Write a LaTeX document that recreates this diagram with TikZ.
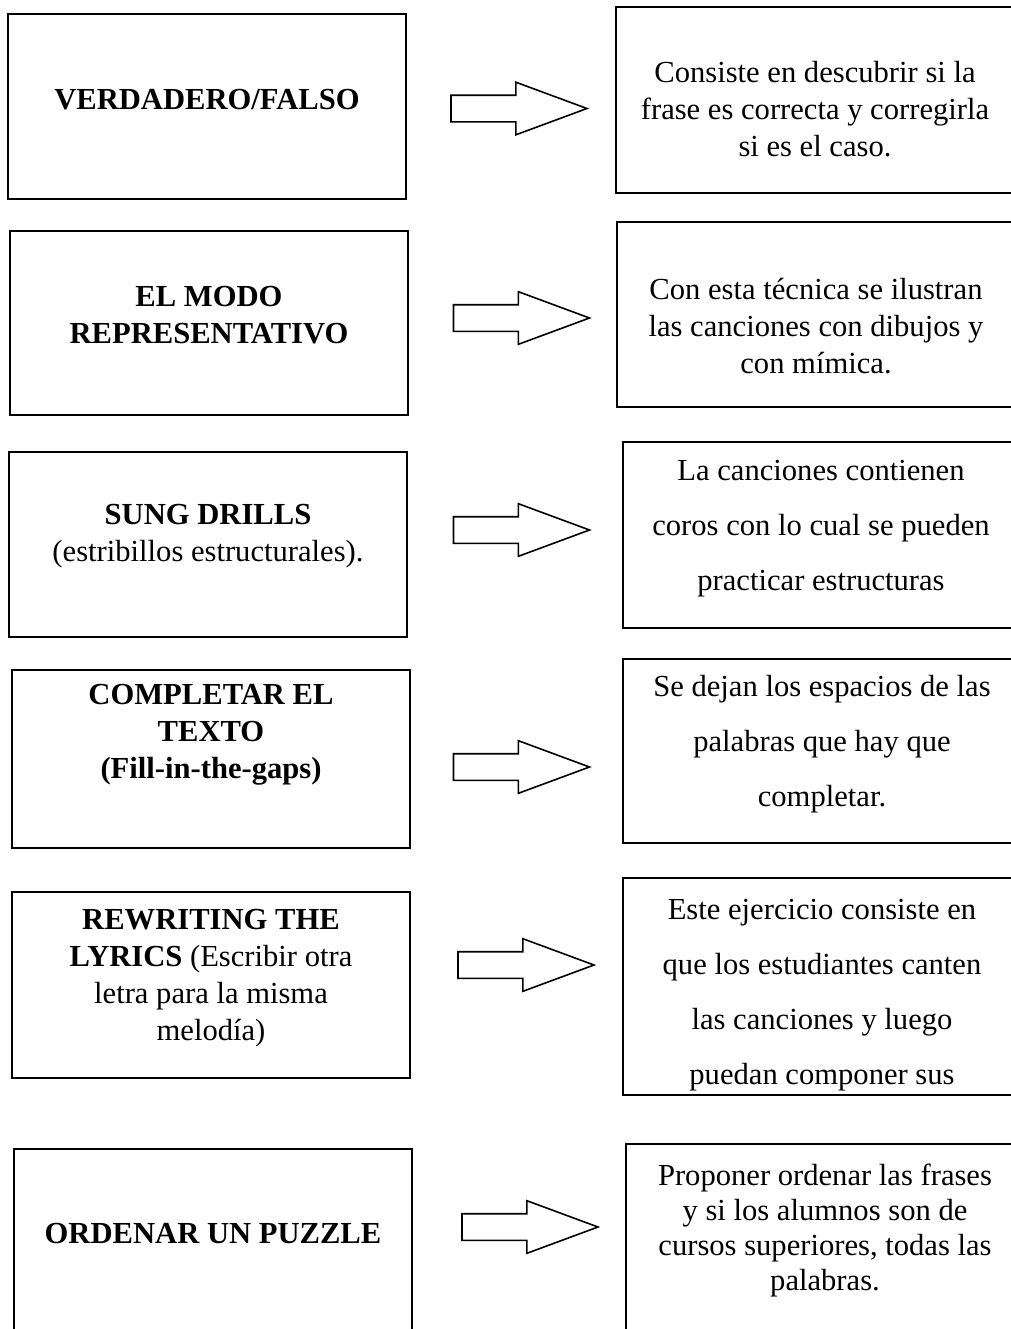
\documentclass[tikz,border=0pt]{standalone}
\usepackage{fontspec}
\setmainfont{Liberation Serif}
\usetikzlibrary{shapes.arrows}
\usetikzlibrary{positioning}
\tikzset{caja/.style={draw = black, line width = 1pt, rectangle, inner sep = 0pt, minimum width = 199pt},
  txt/.style={align = center, inner sep = 0pt, font = \fontsize{15.3}{18.5}\selectfont},
  txtd/.style={align = center, inner sep = 0pt, font = \fontsize{15.3}{27.5}\selectfont},
  flecha/.style={draw = black, line width = 0.8pt, single arrow, inner sep = 0pt, inner ysep = 6.25pt, minimum height = 68pt, single arrow head extend = 6.5pt, single arrow tip angle = 40.6}}

\begin{document}
\begin{tikzpicture}[x=0.5pt, y=-0.5pt]
  \useasboundingbox (0,0) rectangle (1011,1329);
  \clip (0,0) rectangle (1011,1329);

  % cajas de la izquierda
  \foreach \i/\x/\y/\h in {1/207/106.5/185, 2/208.5/323/184, 3/208/544.5/185, 4/211/758.5/178, 5/210.5/985/186, 6/212.5/1242/186}{
    \node[caja, minimum height = \h*0.5pt] (t\i) at (\x,\y) {};
  }
  % cajas de la derecha
  \foreach \i/\x/\y/\h in {1/816/100/186, 2/817/314.5/185, 3/823/535/186, 4/823/751/184, 5/823/986.5/217, 6/826/1252.5/217}{
    \node[caja, minimum width = 200pt, minimum height = \h*0.5pt] (d\i) at (\x,\y) {};
  }
  % flechas
  \foreach \i/\x/\y in {1/501/108.5, 2/503.5/318, 3/503.5/530, 4/503.5/767, 5/508/965, 6/512/1227}{
    \node[flecha] (f\i) at (\x,\y) {};
  }

  \node[txt, font = \fontsize{15.3}{18.5}\selectfont\bfseries] (tt1) at (207,100) {VERDADERO/FALSO};
  \node[txt, font = \fontsize{15.3}{18.5}\selectfont\bfseries] (tt2) at (209,315.5) {EL MODO\\REPRESENTATIVO};
  \node[txt] (tt3) at (208,536.5) {\textbf{SUNG DRILLS}\\(estribillos estructurales).};
  \node[txt, font = \fontsize{15.3}{18.5}\selectfont\bfseries] (tt4) at (211,734.5) {COMPLETAR EL\\TEXTO\\(Fill-in-the-gaps)};
  \node[txt] (tt5) at (211,978) {\textbf{REWRITING THE}\\\textbf{LYRICS} (Escribir otra\\letra para la misma\\melodía)};
  \node[txt, font = \fontsize{15.3}{18.5}\selectfont\bfseries] (tt6) at (213,1234) {ORDENAR UN PUZZLE};

  \node[txt] (dd1) at (815,109) {Consiste en descubrir si la\\frase es correcta y corregirla\\si es el caso.};
  \node[txt] (dd2) at (816,326) {Con esta técnica se ilustran\\las canciones con dibujos y\\con mímica.};
  \node[txtd] (dd3) at (821,528.5) {La canciones contienen\\coros con lo cual se pueden\\practicar estructuras};
  \node[txtd] (dd4) at (822,744) {Se dejan los espacios de las\\palabras que hay que\\completar.};
  \node[txtd] (dd5) at (822,995.5) {Este ejercicio consiste en\\que los estudiantes canten\\las canciones y luego\\puedan componer sus};
  \node[txt, font = \fontsize{15.3}{17.5}\selectfont] (dd6) at (825,1230) {Proponer ordenar las frases\\y si los alumnos son de\\cursos superiores, todas las\\palabras.};
\end{tikzpicture}
\end{document}
